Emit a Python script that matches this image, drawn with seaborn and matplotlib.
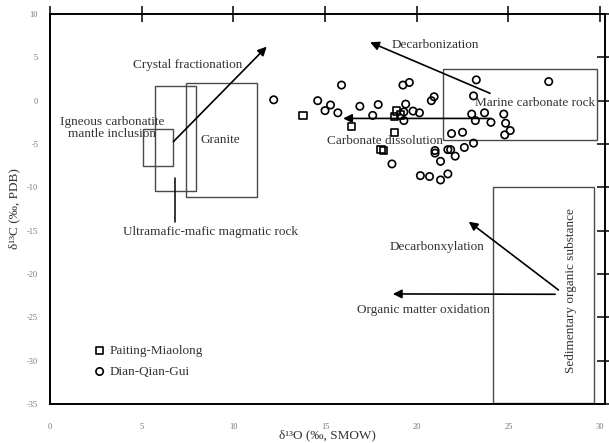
import pandas as pd
import seaborn as sns
import matplotlib.pyplot as plt
from matplotlib.patches import Rectangle

# data (d18O SMOW, d13C PDB)
dqg_o = [12.2, 15.9, 14.6, 15.3, 15.0, 15.7, 16.9, 17.9, 17.6, 19.25,
         19.6, 20.8, 20.95, 19.4, 19.8, 20.15, 19.3, 19.3, 23.25, 23.1,
         23.0, 23.7, 23.2, 24.05, 24.75, 24.85, 24.8, 25.1, 27.2, 21.9,
         22.5, 23.1, 22.6, 21.0, 21.0, 21.7, 21.85, 22.1, 21.3, 18.65,
         20.2, 20.7, 21.3, 21.7]
dqg_c = [0.1, 1.8, 0.0, -0.5, -1.15, -1.4, -0.65, -0.45, -1.7, 1.8,
         2.1, 0.0, 0.45, -0.4, -1.2, -1.4, -1.3, -2.3, 2.4, 0.55,
         -1.55, -1.4, -2.3, -2.5, -1.55, -2.6, -3.95, -3.45, 2.2, -3.8,
         -3.65, -4.9, -5.4, -5.75, -6.05, -5.65, -5.65, -6.4, -7.0, -7.3,
         -8.65, -8.75, -9.15, -8.45]
pm_o = [13.8, 16.45, 18.05, 18.2, 18.9, 18.8, 19.1, 18.8]
pm_c = [-1.7, -3.0, -5.65, -5.75, -1.2, -1.85, -1.65, -3.7]

groups = ["Paiting-Miaolong", "Dian-Qian-Gui"]
markers = {"Paiting-Miaolong": "s", "Dian-Qian-Gui": "o"}

# reference fields: name, x0, y0, x1, y1
fields = [
    ("igneous", 5.06, -7.55, 6.73, -3.3),
    ("ultramafic", 5.73, -10.38, 7.95, 1.73),
    ("granite", 7.42, -11.08, 11.28, 2.0),
    ("marine", 21.45, -4.53, 29.86, 3.62),
    ("sedimentary", 24.15, -34.85, 29.68, -9.99),
]

# process arrows: start -> tip
arrows = [
    ((6.73, -4.73), (11.82, 6.23)),
    ((24.0, 0.85), (17.46, 6.74)),
    ((24.04, -2.05), (15.99, -2.05)),
    ((27.73, -21.84), (22.84, -13.96)),
    ((27.55, -22.34), (18.7, -22.3)),
]

df = pd.concat([
    pd.DataFrame({"O": pm_o, "C": pm_c, "group": groups[0]}),
    pd.DataFrame({"O": dqg_o, "C": dqg_c, "group": groups[1]}),
])

sns.set_theme(style="white")
plt.rcParams["font.family"] = ["Liberation Serif", "DejaVu Serif"]
plt.rcParams["axes.unicode_minus"] = False

fig = plt.figure(figsize=(6.09, 4.43), dpi=100)
ax = fig.add_axes([50 / 609, 1 - 404 / 443, 555 / 609, 390 / 443])

txt = "#333333"
box = "#4a4a4a"

for name, x0, y0, x1, y1 in fields:
    ax.add_patch(Rectangle((x0, y0), x1 - x0, y1 - y0, fill=False,
                           edgecolor=box, linewidth=1.0, zorder=1))

for g in groups:
    sns.scatterplot(data=df[df["group"] == g], x="O", y="C", marker=markers[g],
                    s=28, facecolor="none", edgecolor="black", linewidth=1.2,
                    label=g, ax=ax, zorder=3)

for (x0, y0), (x1, y1) in arrows:
    ax.annotate("", xy=(x1, y1), xytext=(x0, y0),
                arrowprops=dict(arrowstyle="-|>", color="black", lw=1.2,
                                mutation_scale=13, shrinkA=0, shrinkB=0),
                zorder=4)

# leader line for the ultramafic field
ax.plot([6.82, 6.82], [-8.92, -13.96], color="black", lw=1.1, zorder=2)

fs = 9.5
ax.text(3.38, -3.2, "Igneous carbonatite\nmantle inclusion", ha="center",
        va="center", fontsize=fs, color=txt, linespacing=1.0)
ax.text(9.27, -4.54, "Granite", ha="center", va="center", fontsize=fs, color=txt)
ax.text(7.53, 4.12, "Crystal fractionation", ha="center", va="center",
        fontsize=fs, color=txt)
ax.text(8.78, -15.1, "Ultramafic-mafic magmatic rock", ha="center",
        va="center", fontsize=fs, color=txt)
ax.text(21.0, 6.43, "Decarbonization", ha="center", va="center",
        fontsize=fs, color=txt)
ax.text(26.46, -0.27, "Marine carbonate rock", ha="center", va="center",
        fontsize=fs, color=txt)
ax.text(18.27, -4.65, "Carbonate dissolution", ha="center", va="center",
        fontsize=fs, color=txt)
ax.text(21.1, -16.85, "Decarbonxylation", ha="center", va="center",
        fontsize=fs, color=txt)
ax.text(24.0, -24.2, "Organic matter oxidation", ha="right", va="center",
        fontsize=fs, color=txt)
ax.text(28.4, -21.9, "Sedimentary organic substance", ha="center",
        va="center", rotation=90, fontsize=fs, color=txt)

ax.set_xlim(0, 30.27)
ax.set_ylim(-35, 10)
ax.set_xticks(range(0, 31, 5))
ax.set_yticks(range(-35, 11, 5))
ax.tick_params(direction="inout", length=11, width=1.1, color="black",
               labelsize=6, labelcolor="#777777", pad=3,
               top=True, right=True)
ax.tick_params(axis="x", pad=8)
for sp in ax.spines.values():
    sp.set_linewidth(1.4)
    sp.set_color("black")

ax.set_xlabel("δ¹³O (‰, SMOW)", fontsize=fs, color=txt, labelpad=-1)
ax.set_ylabel("δ¹³C (‰, PDB)", fontsize=fs, color=txt, labelpad=5)

ax.legend(loc="upper left", bbox_to_anchor=(0.068, 0.165), frameon=False,
          fontsize=fs, handletextpad=0.25, handlelength=1.0,
          labelspacing=0.65, borderaxespad=0, labelcolor=txt)

fig.savefig("out.png", dpi=100)
